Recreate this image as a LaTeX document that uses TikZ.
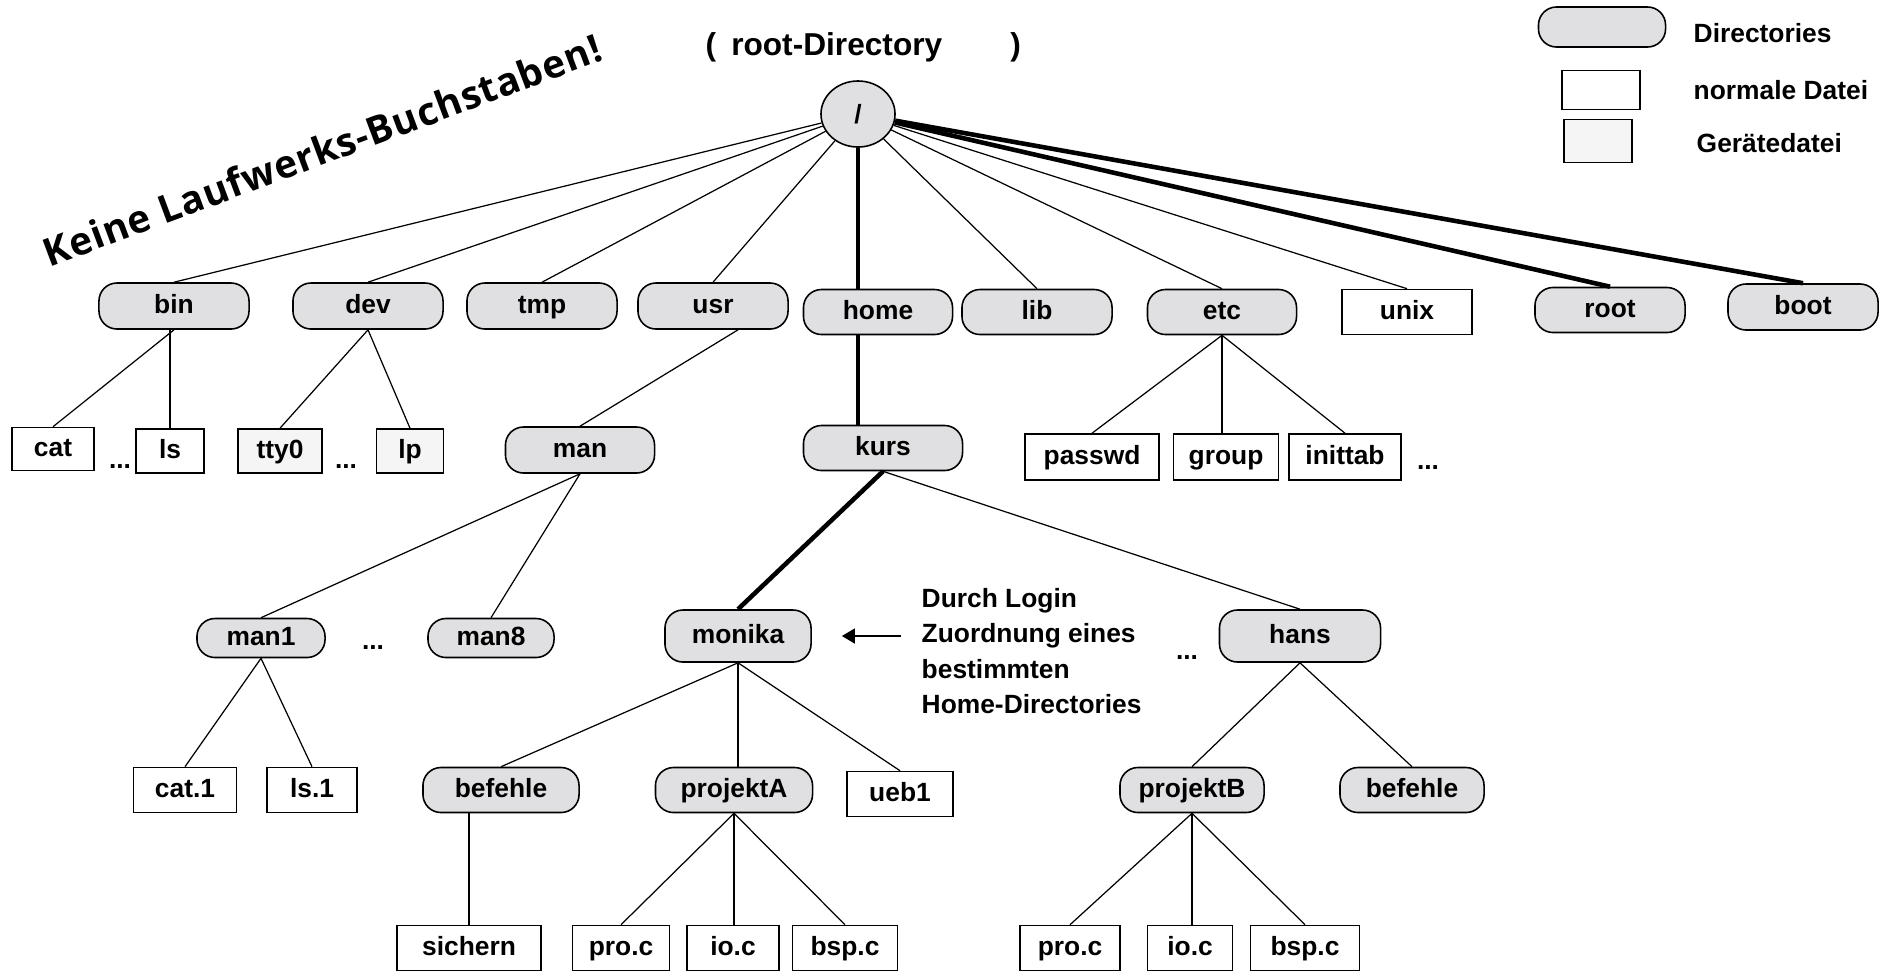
\documentclass[tikz,border=0pt]{standalone}
\usepackage{fontspec}
\setmainfont{Liberation Sans}
\newfontfamily\keinefont[LetterSpace=2]{Open Sans}
\usetikzlibrary{arrows.meta,shapes.geometric}
\definecolor{ordnergrau}{RGB}{224,224,226}
\definecolor{geraetgrau}{RGB}{245,245,245}
\begin{document}
\begin{tikzpicture}[x=0.01cm,y=-0.01cm,
      every node/.style={inner sep=0pt,font=\bfseries\fontsize{7.5}{9}\selectfont},
      ordner/.style={draw,line width=0.45pt,fill=ordnergrau,rounded corners=0.18cm,
         minimum height=0.45cm,text height=0.19cm,text depth=0.05cm},
      datei/.style={draw,line width=0.45pt,minimum height=0.45cm,text height=0.19cm,text depth=0.05cm},
      geraet/.style={datei,fill=geraetgrau},
      weg/.style={line width=0.35pt},
      pfad/.style={line width=1.3pt},
      >={Triangle[length=0.13cm,width=0.15cm]}]
  \useasboundingbox(0,0)rectangle(1883,972);
  \node[rotate=20.5,font=\keinefont\bfseries\fontsize{11}{13}\selectfont](keine)at(322,150){Keine Laufwerks-Buchstaben!};
  \node[anchor=west,font=\bfseries\fontsize{9}{11}\selectfont](titel)at(705,47){(\hspace{0.15cm}root-Directory\hspace{0.68cm})};
  \node[ellipse,draw,line width=0.45pt,fill=ordnergrau,minimum width=0.74cm,minimum height=0.66cm](wurzel)at(858,114){/};
  % Legende
  \node[ordner,minimum width=1.27cm,minimum height=0.40cm](legdir)at(1602,27){};
  \node[datei,minimum width=0.78cm,minimum height=0.39cm](legdatei)at(1601,90){};
  \node[geraet,minimum width=0.68cm,minimum height=0.43cm](leggeraet)at(1598,141){};
  \node[anchor=west](legdirtxt)at(1693,33){Directories};
  \node[anchor=west](legdateitxt)at(1693,90){normale Datei};
  \node[anchor=west](leggeraettxt)at(1696,143){Gerätedatei};
  % erste Ebene
  \node[ordner,minimum width=1.50cm,minimum height=0.46cm](bin)at(174,306){bin};
  \node[ordner,minimum width=1.50cm,minimum height=0.46cm](dev)at(368,306){dev};
  \node[ordner,minimum width=1.50cm,minimum height=0.46cm](tmp)at(542,306){tmp};
  \node[ordner,minimum width=1.50cm,minimum height=0.46cm](usr)at(713,306){usr};
  \node[ordner,minimum width=1.49cm](home)at(878,312){home};
  \node[ordner,minimum width=1.50cm](lib)at(1037,312){lib};
  \node[ordner,minimum width=1.49cm](etc)at(1222,312){etc};
  \node[datei,minimum width=1.30cm](unix)at(1407,312){unix};
  \node[ordner,minimum width=1.50cm](rootdir)at(1610,310){root};
  \node[ordner,minimum width=1.50cm,minimum height=0.46cm](boot)at(1803,307){boot};
  % zweite Ebene
  \node[datei,minimum width=0.82cm,minimum height=0.43cm](cat)at(53,449){cat};
  \node[datei,minimum width=0.68cm,minimum height=0.44cm](ls)at(170,451){ls};
  \node[geraet,minimum width=0.84cm,minimum height=0.44cm](tty0)at(280,451){tty0};
  \node[geraet,minimum width=0.67cm,minimum height=0.44cm](lp)at(410,451){lp};
  \node[ordner,minimum width=1.49cm,minimum height=0.46cm](man)at(580,450){man};
  \node[ordner,minimum width=1.59cm](kurs)at(883,448){kurs};
  \node[datei,minimum width=1.34cm,minimum height=0.46cm](passwd)at(1092,457){passwd};
  \node[datei,minimum width=1.05cm,minimum height=0.46cm](group)at(1226,457){group};
  \node[datei,minimum width=1.12cm,minimum height=0.46cm](inittab)at(1345,457){inittab};
  \node(pkt1)at(120,467){...};
  \node(pkt2)at(346,467){...};
  \node(pkt4)at(1428,468){...};
  % dritte Ebene
  \node[ordner,minimum width=1.28cm,minimum height=0.39cm](man1)at(261,638){man1};
  \node[ordner,minimum width=1.26cm,minimum height=0.39cm](man8)at(491,638){man8};
  \node[ordner,minimum width=1.46cm,minimum height=0.52cm](monika)at(738,636){monika};
  \node[ordner,minimum width=1.61cm,minimum height=0.52cm](hans)at(1300,636){hans};
  \node(pkt3)at(373,648){...};
  \node(pkt5)at(1187,658){...};
  \node[anchor=west,align=left,font=\bfseries\fontsize{7.5}{10}\selectfont](login)at(921,651)
     {Durch Login\\Zuordnung eines\\bestimmten\\Home-Directories};
  % vierte Ebene
  \node[datei,minimum width=1.03cm](cat1)at(185,790){cat.1};
  \node[datei,minimum width=0.90cm](ls1)at(312,790){ls.1};
  \node[ordner,minimum width=1.56cm](befA)at(501,790){befehle};
  \node[ordner,minimum width=1.57cm](projA)at(734,790){projektA};
  \node[datei,minimum width=1.06cm](ueb1)at(900,794){ueb1};
  \node[ordner,minimum width=1.44cm](projB)at(1192,790){projektB};
  \node[ordner,minimum width=1.44cm](befB)at(1412,790){befehle};
  % fuenfte Ebene
  \node[datei,minimum width=1.44cm](sichern)at(469,948){sichern};
  \node[datei,minimum width=0.97cm](proA)at(621,948){pro.c};
  \node[datei,minimum width=0.92cm](ioA)at(733,948){io.c};
  \node[datei,minimum width=1.05cm](bspA)at(845,948){bsp.c};
  \node[datei,minimum width=1.00cm](proB)at(1070,948){pro.c};
  \node[datei,minimum width=0.85cm](ioB)at(1190,948){io.c};
  \node[datei,minimum width=1.09cm](bspB)at(1305,948){bsp.c};
  % Verbindungen
  \foreach \k in {bin,dev,tmp,usr,lib,etc,unix}
     \draw[weg](wurzel)--(\k.north);
  \draw[pfad](wurzel.south)--(wurzel.south|-home.north);
  \draw[pfad](wurzel)--(rootdir.north);
  \draw[pfad](wurzel)--(boot.north);
  \draw[weg](bin.south)--(cat.north);
  \draw[weg](bin.south-|ls)--(ls.north);
  \draw[weg](dev.south)--(tty0.north);
  \draw[weg](dev.south)--(lp.north);
  \draw[weg]([xshift=0.25cm]usr.south)--(man.north);
  \draw[pfad](home.south-|wurzel)--(kurs.north-|wurzel);
  \draw[weg](etc.south)--(passwd.north);
  \draw[weg](etc.south)--(etc.south|-group.north);
  \draw[weg](etc.south)--(inittab.north);
  \draw[weg](man.south)--(man1.north);
  \draw[weg](man.south)--(man8.north);
  \draw[pfad](kurs.south)--(monika.north);
  \draw[weg](kurs.south)--(hans.north);
  \draw[weg](man1.south)--(cat1.north);
  \draw[weg](man1.south)--(ls1.north);
  \draw[weg](monika.south)--(befA.north);
  \draw[weg](monika.south)--(monika.south|-projA.north);
  \draw[weg](monika.south)--(ueb1.north);
  \draw[weg](hans.south)--(projB.north);
  \draw[weg](hans.south)--(befB.north);
  \draw[weg](befA.south-|sichern)--(sichern.north);
  \draw[weg](projA.south)--(proA.north);
  \draw[weg](projA.south)--(projA.south|-ioA.north);
  \draw[weg](projA.south)--(bspA.north);
  \draw[weg](projB.south)--(proB.north);
  \draw[weg](projB.south)--(projB.south|-ioB.north);
  \draw[weg](projB.south)--(bspB.north);
  \draw[->,line width=0.45pt,shorten <=0.2cm,shorten >=0.3cm](login.west|-monika)--(monika);
\end{tikzpicture}
\end{document}
